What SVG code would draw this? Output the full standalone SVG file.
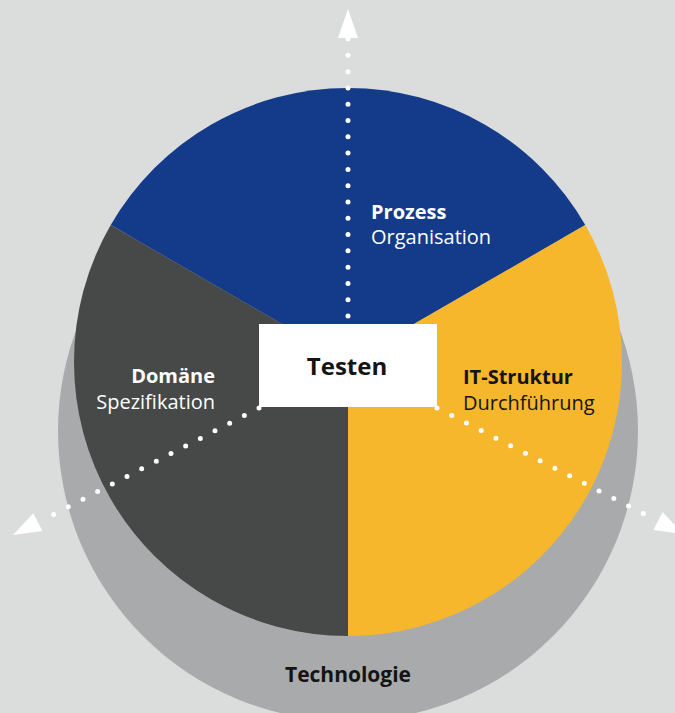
<svg xmlns="http://www.w3.org/2000/svg" width="675" height="713" viewBox="0 0 675 713">
  <defs>
    <style>
      .lbl { font-family: "Open Sans", "Noto Sans", "Liberation Sans", sans-serif; font-size: 20px; }
      .b { font-weight: bold; }
      .w { fill: #ffffff; }
      .k { fill: #141414; }
      .dots { fill: none; stroke: #ffffff; stroke-width: 5; stroke-linecap: round; }
      .arrow { fill: #ffffff; }
    </style>
  </defs>
  <rect width="675" height="713" fill="#dbdcdc"/>

  <g id="technologie">
    <circle cx="348" cy="431" r="290" fill="#a9aaac"/>
    <text class="lbl b k" x="348" y="682" text-anchor="middle" style="font-size:21px">Technologie</text>
  </g>

  <g id="prozess">
    <path d="M348,362 L110.7,225 A274,274 0 0 1 585.3,225 Z" fill="#133b8a"/>
    <text class="lbl w" x="371" y="219"><tspan class="b">Prozess</tspan><tspan x="371" y="244">Organisation</tspan></text>
  </g>

  <g id="domaene">
    <path d="M348,362 L348,636 A274,274 0 0 1 110.7,225 Z" fill="#474948"/>
    <text class="lbl w" x="215" y="383" text-anchor="end"><tspan class="b">Domäne</tspan><tspan x="215" y="409">Spezifikation</tspan></text>
  </g>

  <g id="it-struktur">
    <path d="M348,362 L585.3,225 A274,274 0 0 1 348,636 Z" fill="#f6b72c"/>
    <text class="lbl k" x="463" y="384"><tspan class="b">IT-Struktur</tspan><tspan x="463" y="410">Durchführung</tspan></text>
  </g>

  <g id="testen">
    <rect x="259" y="324" width="178" height="83" fill="#ffffff"/>
    <text class="lbl b k" x="347" y="375" text-anchor="middle" style="font-size:24px">Testen</text>
  </g>

  <g id="connectors">
    <line class="dots" x1="348" y1="316" x2="348" y2="39" stroke-dasharray="0 16.29"/>
    <polygon class="arrow" points="348,9 358,38 338,38"/>
    <line class="dots" x1="259" y1="408" x2="39" y2="522" stroke-dasharray="0 16.52"/>
    <polygon class="arrow" points="13,535 33.3,513.2 42.5,531"/>
    <line class="dots" x1="437" y1="408" x2="658" y2="521" stroke-dasharray="0 16.55"/>
    <polygon class="arrow" points="683,534 662.6,512 653.5,530"/>
  </g>
</svg>
